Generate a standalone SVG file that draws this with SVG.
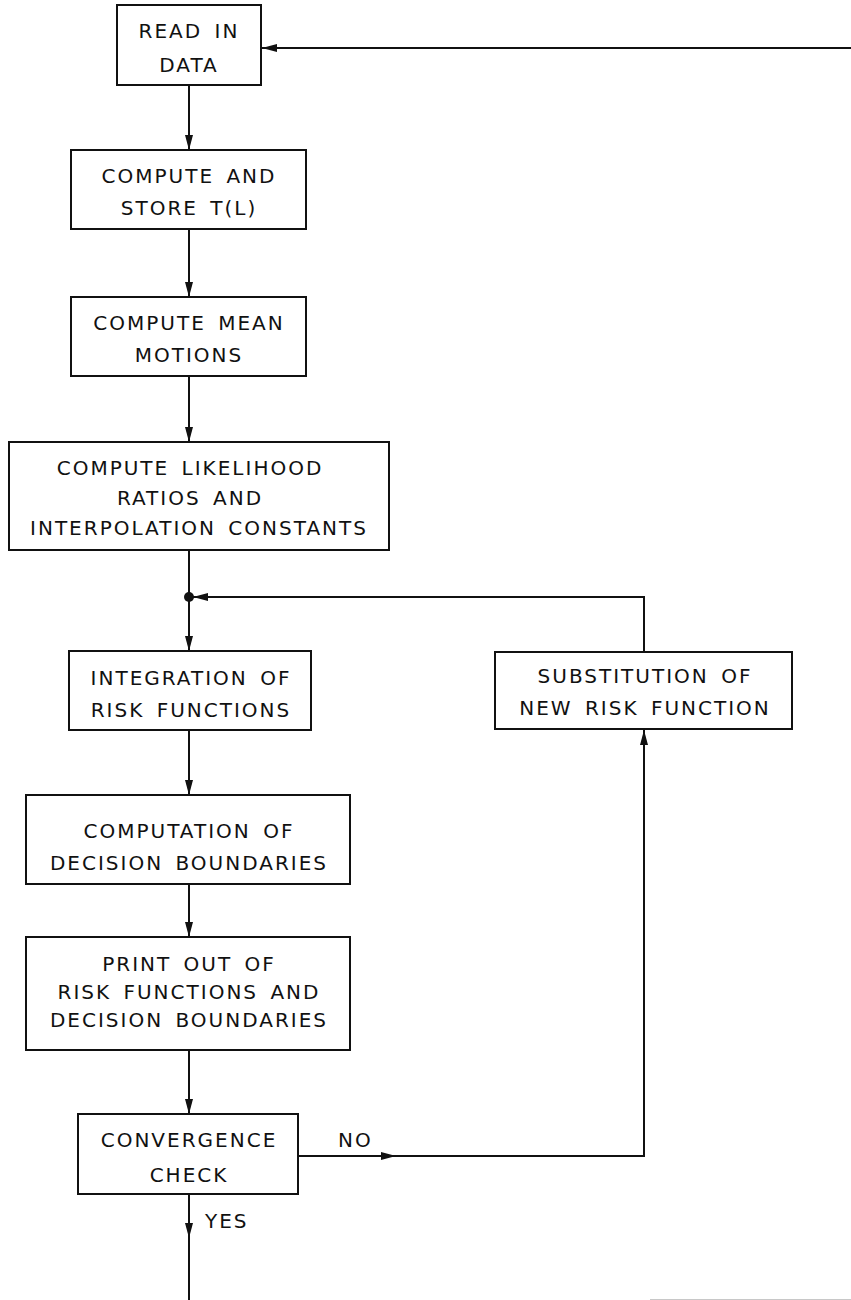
<svg xmlns="http://www.w3.org/2000/svg" width="851" height="1300" viewBox="0 0 851 1300">
  <style>
    .box { fill: #fff; stroke: #111; stroke-width: 2; }
    .wire { fill: none; stroke: #111; stroke-width: 2; }
    .lbl { font-family: "DejaVu Sans", "Liberation Sans", sans-serif; font-size: 20px; letter-spacing: 2px; word-spacing: 4px; fill: #111; text-anchor: middle; }
    .tag { font-family: "DejaVu Sans", "Liberation Sans", sans-serif; font-size: 20px; letter-spacing: 2px; fill: #111; }
    .head { fill: #111; }
    .edge { stroke: #c8c8c8; stroke-width: 1; }
  </style>
  <defs>
    <!-- slender inked arrowhead, tip at the origin, pointing along +x -->
    <path id="ah" d="M0,0 L-15,-4 L-15,4 Z" class="head"/>
  </defs>

  <rect width="851" height="1300" fill="#fff"/>

  <g id="connectors">
    <!-- return line into READ IN DATA -->
    <line class="wire" x1="851" y1="48" x2="262" y2="48"/>
    <use href="#ah" transform="translate(262,48) rotate(180)"/>
    <!-- main downward flow -->
    <line class="wire" x1="189" y1="85" x2="189" y2="150"/>
    <use href="#ah" transform="translate(189,150) rotate(90)"/>
    <line class="wire" x1="189" y1="229" x2="189" y2="297"/>
    <use href="#ah" transform="translate(189,297) rotate(90)"/>
    <line class="wire" x1="189" y1="376" x2="189" y2="442"/>
    <use href="#ah" transform="translate(189,442) rotate(90)"/>
    <line class="wire" x1="189" y1="550" x2="189" y2="651"/>
    <use href="#ah" transform="translate(189,651) rotate(90)"/>
    <circle cx="189" cy="597" r="5" class="head"/>
    <!-- iteration loop back to the junction -->
    <polyline class="wire" points="644,652 644,597 192,597"/>
    <use href="#ah" transform="translate(193,597) rotate(180)"/>
    <line class="wire" x1="189" y1="730" x2="189" y2="795"/>
    <use href="#ah" transform="translate(189,795) rotate(90)"/>
    <line class="wire" x1="189" y1="884" x2="189" y2="937"/>
    <use href="#ah" transform="translate(189,937) rotate(90)"/>
    <line class="wire" x1="189" y1="1050" x2="189" y2="1114"/>
    <use href="#ah" transform="translate(189,1114) rotate(90)"/>
    <!-- NO branch -->
    <polyline class="wire" points="298,1156 644,1156 644,730"/>
    <use href="#ah" transform="translate(396,1156)"/>
    <use href="#ah" transform="translate(644,730) rotate(-90)"/>
    <!-- YES exit -->
    <line class="wire" x1="189" y1="1194" x2="189" y2="1300"/>
    <use href="#ah" transform="translate(189,1238) rotate(90)"/>
    <text class="tag" x="338" y="1147">NO</text>
    <text class="tag" x="205" y="1228">YES</text>
  </g>

  <g id="read-data">
    <rect class="box" x="117" y="5" width="144" height="80"/>
    <text class="lbl" x="189" y="38">READ IN</text>
    <text class="lbl" x="189" y="72">DATA</text>
  </g>

  <g id="store-tl">
    <rect class="box" x="71" y="150" width="235" height="79"/>
    <text class="lbl" x="189" y="183">COMPUTE AND</text>
    <text class="lbl" x="189" y="215">STORE T(L)</text>
  </g>

  <g id="mean-motions">
    <rect class="box" x="71" y="297" width="235" height="79"/>
    <text class="lbl" x="189" y="330">COMPUTE MEAN</text>
    <text class="lbl" x="189" y="362">MOTIONS</text>
  </g>

  <g id="likelihood">
    <rect class="box" x="9" y="442" width="380" height="108"/>
    <text class="lbl" x="190" y="475">COMPUTE LIKELIHOOD</text>
    <text class="lbl" x="190" y="505">RATIOS AND</text>
    <text class="lbl" x="199" y="535">INTERPOLATION CONSTANTS</text>
  </g>

  <g id="integration">
    <rect class="box" x="69" y="651" width="242" height="79"/>
    <text class="lbl" x="191" y="685">INTEGRATION OF</text>
    <text class="lbl" x="191" y="717">RISK FUNCTIONS</text>
  </g>

  <g id="substitution">
    <rect class="box" x="495" y="652" width="297" height="77"/>
    <text class="lbl" x="645" y="683">SUBSTITUTION OF</text>
    <text class="lbl" x="645" y="715">NEW RISK FUNCTION</text>
  </g>

  <g id="boundaries">
    <rect class="box" x="26" y="795" width="324" height="89"/>
    <text class="lbl" x="189" y="838">COMPUTATION OF</text>
    <text class="lbl" x="189" y="870">DECISION BOUNDARIES</text>
  </g>

  <g id="print-out">
    <rect class="box" x="26" y="937" width="324" height="113"/>
    <text class="lbl" x="189" y="971">PRINT OUT OF</text>
    <text class="lbl" x="189" y="999">RISK FUNCTIONS AND</text>
    <text class="lbl" x="189" y="1027">DECISION BOUNDARIES</text>
  </g>

  <g id="convergence">
    <rect class="box" x="78" y="1114" width="220" height="80"/>
    <text class="lbl" x="189" y="1147">CONVERGENCE</text>
    <text class="lbl" x="189" y="1182">CHECK</text>
  </g>

  <!-- faint rule along the lower sheet edge -->
  <line class="edge" x1="650" y1="1299.5" x2="851" y2="1299.5"/>
</svg>
